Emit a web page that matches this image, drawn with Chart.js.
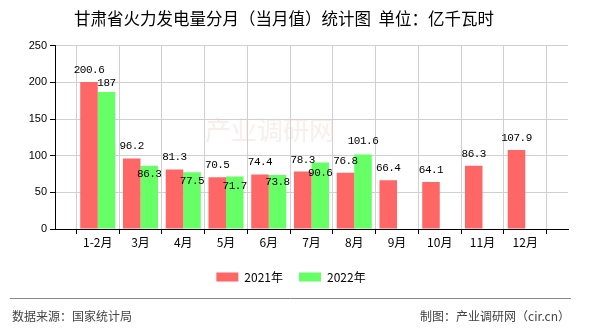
<!DOCTYPE html>
<html lang="zh">
<head>
<meta charset="UTF-8">
<title>甘肃省火力发电量分月（当月值）统计图</title>
<script src="https://cdn.jsdelivr.net/npm/chart.js"></script>
<style>
    html, body { margin: 0; padding: 0; background: #fff; }
    #wrap { width: 590px; height: 330px; position: relative; }
</style>
</head>
<body>
<div id="wrap"><canvas id="fdChart" width="590" height="330"></canvas></div>
<script>
// 横轴：两端空位只用来留出边距
const months = ['', '1-2月', '3月', '4月', '5月', '6月', '7月', '8月', '9月', '10月', '11月', '12月', ''];
const values2021 = [null, 200.6, 96.2, 81.3, 70.5, 74.4, 78.3, 76.8, 66.4, 64.1, 86.3, 107.9, null];
const values2022 = [null, 187, 86.3, 77.5, 71.7, 73.8, 90.6, 101.6, null, null, null, null, null];
const seriesNames = ['2021年', '2022年'];
const yMin = 0, yMax = 250, yStep = 50;

// 数值标签相对柱顶的偏移（2022年的标签有些被挪到柱内）
const labelShift2021 = [0, -12, -12, -12, -12, -12, -12, -12, -12, -12, -12, -12, 0];
const labelShift2022 = [0, -9, 8, 8.5, 10, 7.5, 10.5, -13, 0, 0, 0, 0, 0];

const RED = 'rgb(255,102,102)';
const GREEN = 'rgb(102,255,102)';
const CJK = '"Noto Sans CJK SC", "Noto Sans", sans-serif';

// 淡水印
const watermark = {
    id: 'watermark',
    beforeDatasetsDraw(chart) {
        const ctx = chart.ctx;
        ctx.save();
        ctx.font = '26px ' + CJK;
        ctx.fillStyle = 'rgba(235,205,205,0.35)';
        ctx.textAlign = 'left';
        ctx.textBaseline = 'middle';
        ctx.fillText('产业调研网', 205, 130);
        ctx.restore();
    }
};

const valueLabels = {
    id: 'valueLabels',
    afterDatasetsDraw(chart) {
        const ctx = chart.ctx;
        const shifts = [labelShift2021, labelShift2022];
        ctx.save();
        ctx.font = '11px "Liberation Mono", monospace';
        ctx.letterSpacing = '-0.5px';
        ctx.fillStyle = '#000';
        ctx.textAlign = 'center';
        ctx.textBaseline = 'middle';
        chart.data.datasets.forEach((ds, i) => {
            chart.getDatasetMeta(i).data.forEach((bar, j) => {
                const v = ds.data[j];
                if (v == null) return;
                ctx.fillText(String(v), bar.x, bar.y + shifts[i][j]);
            });
        });
        ctx.restore();
    }
};

const legendAndFooter = {
    id: 'legendAndFooter',
    afterDraw(chart) {
        const ctx = chart.ctx;
        ctx.save();
        // 图例
        ctx.font = '12px ' + CJK;
        ctx.textBaseline = 'middle';
        ctx.textAlign = 'left';
        const boxW = 22, boxH = 9, gap = 16, ly = 277;
        const items = chart.data.datasets.map(ds => ({
            text: ds.label, color: ds.backgroundColor, w: boxW + 6 + ctx.measureText(ds.label).width
        }));
        const total = items.reduce((s, it) => s + it.w, 0) + gap * (items.length - 1);
        let x = 291 - total / 2;
        items.forEach(it => {
            ctx.fillStyle = it.color;
            ctx.fillRect(x, ly - boxH / 2, boxW, boxH);
            ctx.fillStyle = '#000';
            ctx.fillText(it.text, x + boxW + 6, ly);
            x += it.w + gap;
        });
        // 分隔线与来源
        ctx.strokeStyle = '#888';
        ctx.lineWidth = 1;
        ctx.beginPath();
        ctx.moveTo(10, 298.5);
        ctx.lineTo(571, 298.5);
        ctx.stroke();
        ctx.fillStyle = '#444';
        ctx.font = '12px ' + CJK;
        ctx.fillText('数据来源：国家统计局', 12, 316);
        ctx.textAlign = 'right';
        ctx.fillText('制图：产业调研网（cir.cn）', 570, 316);
        ctx.restore();
    }
};

new Chart(document.getElementById('fdChart'), {
    type: 'bar',
    data: {
        labels: months,
        datasets: [
            { label: seriesNames[0], data: values2021, backgroundColor: RED },
            { label: seriesNames[1], data: values2022, backgroundColor: GREEN }
        ]
    },
    options: {
        responsive: false,
        animation: false,
        maintainAspectRatio: false,
        layout: { padding: { left: 0, right: 22, top: 0, bottom: 81 } },
        datasets: { bar: { categoryPercentage: 0.82, barPercentage: 1.0 } },
        plugins: {
            legend: { display: false },
            tooltip: { enabled: false },
            title: {
                display: true,
                text: '甘肃省火力发电量分月（当月值）统计图  单位：亿千瓦时',
                color: '#000',
                font: { family: CJK, size: 16.5, weight: 'normal' },
                padding: { top: 9, bottom: 17 }
            }
        },
        scales: {
            x: {
                offset: false,
                afterFit(scale) { scale.height = 20; },
                grid: { color: '#d0d0d0', tickColor: '#000', tickLength: 5 },
                border: { color: '#000' },
                ticks: { color: '#000', font: { family: CJK, size: 12 }, autoSkip: false, maxRotation: 0, padding: 1 }
            },
            y: {
                min: yMin, max: yMax,
                afterFit(scale) { scale.width = 55; },
                grid: { color: '#d0d0d0', tickColor: '#000', tickLength: 5 },
                border: { color: '#000' },
                ticks: { stepSize: yStep, color: '#000', font: { family: '"Liberation Sans", sans-serif', size: 11 }, padding: 3 }
            }
        }
    },
    plugins: [watermark, valueLabels, legendAndFooter]
});
</script>
</body>
</html>
